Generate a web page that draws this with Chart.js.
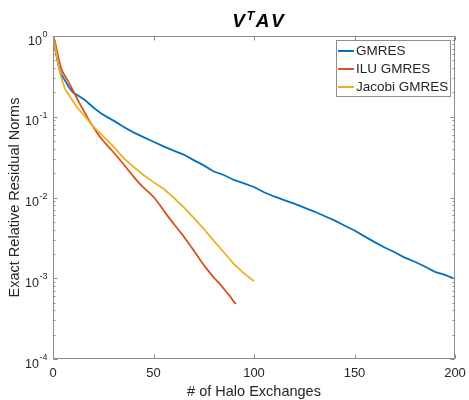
<!DOCTYPE html>
<html>
<head>
<meta charset="utf-8">
<script src="https://cdn.jsdelivr.net/npm/chart.js@4.4.0/dist/chart.umd.min.js"></script>
<style>
  html, body { margin: 0; padding: 0; background: #fff; }
</style>
</head>
<body>
<canvas id="chart" width="469" height="400"></canvas>
<script>
// residual history (x = halo exchanges, y = relative residual)
const gmresX = [0, 1, 2, 3, 4, 6, 8, 10, 13, 16, 18, 21, 24, 27, 31, 35, 40, 45, 50, 55, 60, 65, 70, 75, 80, 85, 90, 95, 100,
  105, 110, 115, 120, 125, 130, 135, 140, 145, 150, 155, 160, 165, 170, 175, 180, 185, 190, 195, 200];
const gmresY = [1, 0.72, 0.52, 0.4, 0.34, 0.28, 0.23, 0.2, 0.18, 0.16, 0.145, 0.125, 0.11, 0.099, 0.087, 0.075, 0.064, 0.056,
  0.049, 0.043, 0.038, 0.034, 0.029, 0.025, 0.021, 0.019, 0.0165, 0.015, 0.0135, 0.0116, 0.0103, 0.0093, 0.0084, 0.0075,
  0.0067, 0.0059, 0.0052, 0.0045, 0.0039, 0.0033, 0.0028, 0.0024, 0.0021, 0.0018, 0.0016, 0.0014, 0.0012, 0.0011, 0.00098];

const iluX = [0, 1, 2, 3, 4, 5, 7, 10, 13, 16, 18, 20, 23, 26, 29, 32, 35, 38, 41, 44, 47, 50, 53, 56, 59, 62, 65, 68, 71,
  74, 77, 80, 83, 86, 88, 90, 91];
const iluY = [1, 0.85, 0.65, 0.5, 0.4, 0.35, 0.29, 0.21, 0.15, 0.11, 0.09, 0.075, 0.058, 0.047, 0.039, 0.032, 0.026, 0.021,
  0.017, 0.014, 0.012, 0.0102, 0.0082, 0.0064, 0.0051, 0.0041, 0.0033, 0.0026, 0.00204, 0.00158, 0.00126, 0.00102, 0.00085,
  0.00069, 0.0006, 0.00051, 0.00048];

const jacobiX = [0, 1, 2, 3, 4, 6, 9, 12, 16, 20, 25, 30, 35, 40, 45, 50, 55, 60, 65, 70, 75, 80, 85, 90, 95, 100];
const jacobiY = [1, 0.75, 0.55, 0.4, 0.31, 0.22, 0.17, 0.13, 0.1, 0.076, 0.057, 0.043, 0.031, 0.024, 0.019, 0.0155, 0.0128,
  0.01, 0.0076, 0.0056, 0.0041, 0.0029, 0.0021, 0.0015, 0.00115, 0.00092];

const seriesNames = ['GMRES', 'ILU GMRES', 'Jacobi GMRES'];
const seriesColors = ['#0072BD', '#D95319', '#EDB120'];
const xTicks = [0, 50, 100, 150, 200];
const yDecades = [-4, -3, -2, -1, 0];

const textColor = '#262626';
const axisColor = '#8c8c8c';
const fontFam = '"Liberation Sans", Arial, Helvetica, sans-serif';

function pts(xs, ys) {
  return xs.map((x, i) => ({ x: x, y: ys[i] }));
}

// matlab-like box, inward ticks, labels, legend and title
const matlabAxes = {
  id: 'matlabAxes',
  afterDraw(chart) {
    const ctx = chart.ctx;
    const xs = chart.scales.x, ys = chart.scales.y;
    const a = chart.chartArea;
    ctx.save();

    ctx.strokeStyle = axisColor;
    ctx.lineWidth = 1;
    const L = Math.round(a.left) + 0.5, R = Math.round(a.right) - 0.5;
    const T = Math.round(a.top) + 0.5, B = Math.round(a.bottom) - 0.5;
    ctx.strokeRect(L, T, R - L, B - T);

    ctx.beginPath();
    xTicks.forEach((v) => {
      const px = Math.round(xs.getPixelForValue(v)) + 0.5;
      ctx.moveTo(px, B); ctx.lineTo(px, B - 4);
      ctx.moveTo(px, T); ctx.lineTo(px, T + 4);
    });
    yDecades.forEach((d) => {
      for (let m = 1; m <= 9; m++) {
        if (d === 0 && m > 1) break;
        const py = Math.round(ys.getPixelForValue(m * Math.pow(10, d))) + 0.5;
        const len = m === 1 ? 4 : 2;
        ctx.moveTo(L, py); ctx.lineTo(L + len, py);
        ctx.moveTo(R, py); ctx.lineTo(R - len, py);
      }
    });
    ctx.stroke();

    ctx.fillStyle = textColor;
    // x tick labels
    ctx.font = '13px ' + fontFam;
    ctx.textAlign = 'center';
    ctx.textBaseline = 'alphabetic';
    xTicks.forEach((v) => {
      ctx.fillText(String(v), xs.getPixelForValue(v), 377);
    });

    // y tick labels 10^d
    yDecades.forEach((d) => {
      const py = ys.getPixelForValue(Math.pow(10, d));
      const exp = String(d);
      ctx.font = '12.5px ' + fontFam;
      const w1 = ctx.measureText('10').width;
      ctx.font = '9px ' + fontFam;
      const w2 = ctx.measureText(exp).width;
      const x0 = a.left - 6 - w1 - w2;
      ctx.textAlign = 'left';
      ctx.font = '12.5px ' + fontFam;
      ctx.fillText('10', x0, py + 8.5);
      ctx.font = '9px ' + fontFam;
      ctx.fillText(exp, x0 + w1 + 0.5, py + 1);
    });

    // axis titles
    ctx.font = '14.5px ' + fontFam;
    ctx.textAlign = 'center';
    ctx.fillText('# of Halo Exchanges', (a.left + a.right) / 2, 396);
    ctx.save();
    ctx.translate(19, (a.top + a.bottom) / 2);
    ctx.rotate(-Math.PI / 2);
    ctx.fillText('Exact Relative Residual Norms', 0, 0);
    ctx.restore();

    // title V^T AV
    ctx.fillStyle = '#000';
    const big = 'italic bold 19px ' + fontFam;
    const small = 'italic bold 13px ' + fontFam;
    ctx.font = big;
    const wv = ctx.measureText('V').width;
    const wa = ctx.measureText('A').width;
    const wv2 = ctx.measureText('V').width;
    ctx.font = small;
    const wt = ctx.measureText('T').width;
    const gap = 1.5;
    let tx = 258 - (wv + wt + wa + wv2 + 3 * gap) / 2;
    ctx.textAlign = 'left';
    ctx.font = big;
    ctx.fillText('V', tx, 27);
    tx += wv + gap;
    ctx.font = small;
    ctx.fillText('T', tx, 20);
    tx += wt + gap;
    ctx.font = big;
    ctx.fillText('A', tx, 27);
    tx += wa + gap;
    ctx.fillText('V', tx, 27);

    // legend
    const bx = 336.5, by = 40.5, bw = 114, bh = 56;
    ctx.fillStyle = '#fff';
    ctx.fillRect(bx, by, bw, bh);
    ctx.strokeStyle = '#8c8c8c';
    ctx.strokeRect(bx, by, bw, bh);
    ctx.font = '13.5px ' + fontFam;
    ctx.textBaseline = 'middle';
    chart.data.datasets.forEach((ds, i) => {
      const ly = 51 + i * 18;
      ctx.strokeStyle = ds.borderColor;
      ctx.lineWidth = 2;
      ctx.beginPath();
      ctx.moveTo(338, ly); ctx.lineTo(354, ly);
      ctx.stroke();
      ctx.fillStyle = textColor;
      ctx.fillText(ds.label, 356, ly);
    });

    ctx.restore();
  }
};

new Chart(document.getElementById('chart'), {
  type: 'line',
  data: {
    datasets: [
      { label: seriesNames[0], data: pts(gmresX, gmresY), borderColor: seriesColors[0], order: 3 },
      { label: seriesNames[1], data: pts(iluX, iluY), borderColor: seriesColors[1], order: 2 },
      { label: seriesNames[2], data: pts(jacobiX, jacobiY), borderColor: seriesColors[2], order: 1 }
    ]
  },
  options: {
    responsive: false,
    animation: false,
    layout: { padding: { left: 53, right: 14, top: 36, bottom: 41 } },
    elements: {
      point: { radius: 0 },
      line: { borderWidth: 1.8, tension: 0 }
    },
    scales: {
      x: { type: 'linear', min: 0, max: 200, display: false },
      y: { type: 'logarithmic', min: 0.0001, max: 1, display: false }
    },
    plugins: {
      legend: { display: false },
      tooltip: { enabled: false }
    }
  },
  plugins: [matlabAxes]
});
</script>
</body>
</html>
